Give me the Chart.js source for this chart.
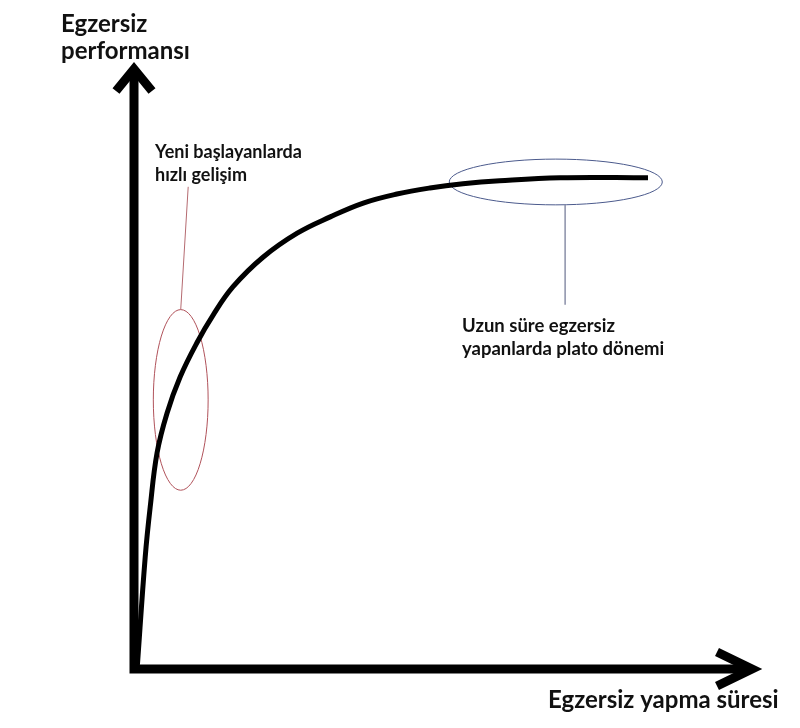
<!DOCTYPE html>
<html>
<head>
<meta charset="utf-8">
<script src="https://cdn.jsdelivr.net/npm/chart.js@4.4.1/dist/chart.umd.min.js"></script>
<style>
  html,body{margin:0;padding:0;background:#fff;}
  #wrap{width:800px;height:728px;position:relative;}
</style>
</head>
<body>
<div id="wrap"><canvas id="c" width="800" height="728"></canvas></div>
<script>
// egzersiz suresi (x) ve performans (y), 0-100 olcekli
const sure = [0.5, 1.8, 2.6, 3.7, 5.3, 7.4, 10.1, 12.7, 15.9, 20.7, 26.2, 31.5, 36.8, 42.2, 47.5, 52.8, 58.7, 68.4, 82.5];
const performans = [0, 18.6, 26.9, 35.9, 42.5, 48.5, 54.2, 58.8, 63.5, 68.4, 72.4, 75.1, 77.4, 78.9, 79.9, 80.6, 81.1, 81.6, 81.6];

const yAxisTitle = ['Egzersiz', 'performansı'];
const xAxisTitle = 'Egzersiz yapma süresi';

// isaretli bolgeler: merkez x, merkez y, yaricap x, yaricap y (veri biriminde)
const bolgeAdlari = ['Yeni başlayanlarda hızlı gelişim', 'Uzun süre egzersiz yapanlarda plato dönemi'];
const bolgeMerkezX = [7.5, 67.7];
const bolgeMerkezY = [44.7, 80.9];
const bolgeYaricapX = [4.4, 17.1];
const bolgeYaricapY = [15.0, 3.8];
// leader line endpoints
const bagX1 = [7.5, 69.2], bagY1 = [59.7, 77.1];
const bagX2 = [8.7, 69.2], bagY2 = [80.1, 60.5];
const notlar = [['Yeni başlayanlarda', 'hızlı gelişim'], ['Uzun süre egzersiz', 'yapanlarda plato dönemi']];

const FONT = 'Lato, "Open Sans", sans-serif';

const decor = {
  id: 'decor',
  beforeDatasetsDraw(chart){
    const {ctx, chartArea:a, scales:{x, y}} = chart;
    const x0 = x.getPixelForValue(0), y0 = y.getPixelForValue(0);
    ctx.save();
    ctx.strokeStyle = '#000'; ctx.lineWidth = 9; ctx.lineCap = 'butt'; ctx.lineJoin = 'miter';
    // axes
    ctx.beginPath();
    ctx.moveTo(x0, a.top + 6); ctx.lineTo(x0, y0 + 4.5);
    ctx.moveTo(x0 - 4.5, y0); ctx.lineTo(a.right - 8, y0);
    ctx.stroke();
    // arrow heads
    ctx.beginPath();
    ctx.moveTo(x0 - 18, a.top + 24); ctx.lineTo(x0, a.top + 2); ctx.lineTo(x0 + 18, a.top + 24);
    ctx.moveTo(a.right - 40, y0 - 17); ctx.lineTo(a.right - 5, y0); ctx.lineTo(a.right - 40, y0 + 17);
    ctx.stroke();

    // ellipses and leader lines
    const renk = ['#b0525a', '#4b5a8c'];
    const bagRenk = ['#b56a70', '#8a8fa8'];
    for (let i = 0; i < bolgeAdlari.length; i++){
      const cx = x.getPixelForValue(bolgeMerkezX[i]), cy = y.getPixelForValue(bolgeMerkezY[i]);
      const rx = x.getPixelForValue(bolgeMerkezX[i] + bolgeYaricapX[i]) - cx;
      const ry = cy - y.getPixelForValue(bolgeMerkezY[i] + bolgeYaricapY[i]);
      ctx.lineWidth = 1; ctx.strokeStyle = renk[i];
      ctx.beginPath(); ctx.ellipse(cx, cy, rx, ry, 0, 0, Math.PI*2); ctx.stroke();
      ctx.strokeStyle = bagRenk[i]; ctx.lineWidth = i === 1 ? 1.5 : 1;
      ctx.beginPath();
      ctx.moveTo(x.getPixelForValue(bagX1[i]), y.getPixelForValue(bagY1[i]));
      ctx.lineTo(x.getPixelForValue(bagX2[i]), y.getPixelForValue(bagY2[i]));
      ctx.stroke();
    }
    ctx.restore();
  },
  afterDraw(chart){
    const {ctx} = chart;
    ctx.save();
    ctx.fillStyle = '#111'; ctx.textBaseline = 'alphabetic'; ctx.textAlign = 'left';
    ctx.font = 'bold 24px ' + FONT;
    ctx.fillText(yAxisTitle[0], 61, 32);
    ctx.fillText(yAxisTitle[1], 61, 59);
    ctx.fillText(xAxisTitle, 548, 708);
    ctx.font = 'bold 18px ' + FONT;
    ctx.fillText(notlar[0][0], 155, 158);
    ctx.fillText(notlar[0][1], 155, 181);
    ctx.font = 'bold 18.5px ' + FONT;
    ctx.fillText(notlar[1][0], 462, 332);
    ctx.fillText(notlar[1][1], 462, 355);
    ctx.restore();
  }
};

new Chart(document.getElementById('c'), {
  type: 'line',
  data: {
    datasets: [{
      data: sure.map((s, i) => ({x: s, y: performans[i]})),
      borderColor: '#000',
      borderWidth: 5,
      pointRadius: 0,
      fill: false,
      tension: 0.4
    }]
  },
  options: {
    responsive: false,
    animation: false,
    layout: {padding: {left: 134, right: 43, top: 67, bottom: 59}},
    plugins: {legend: {display: false}, tooltip: {enabled: false}},
    scales: {
      x: {type: 'linear', min: 0, max: 100, display: false},
      y: {type: 'linear', min: 0, max: 100, display: false}
    }
  },
  plugins: [decor]
});
</script>
</body>
</html>
